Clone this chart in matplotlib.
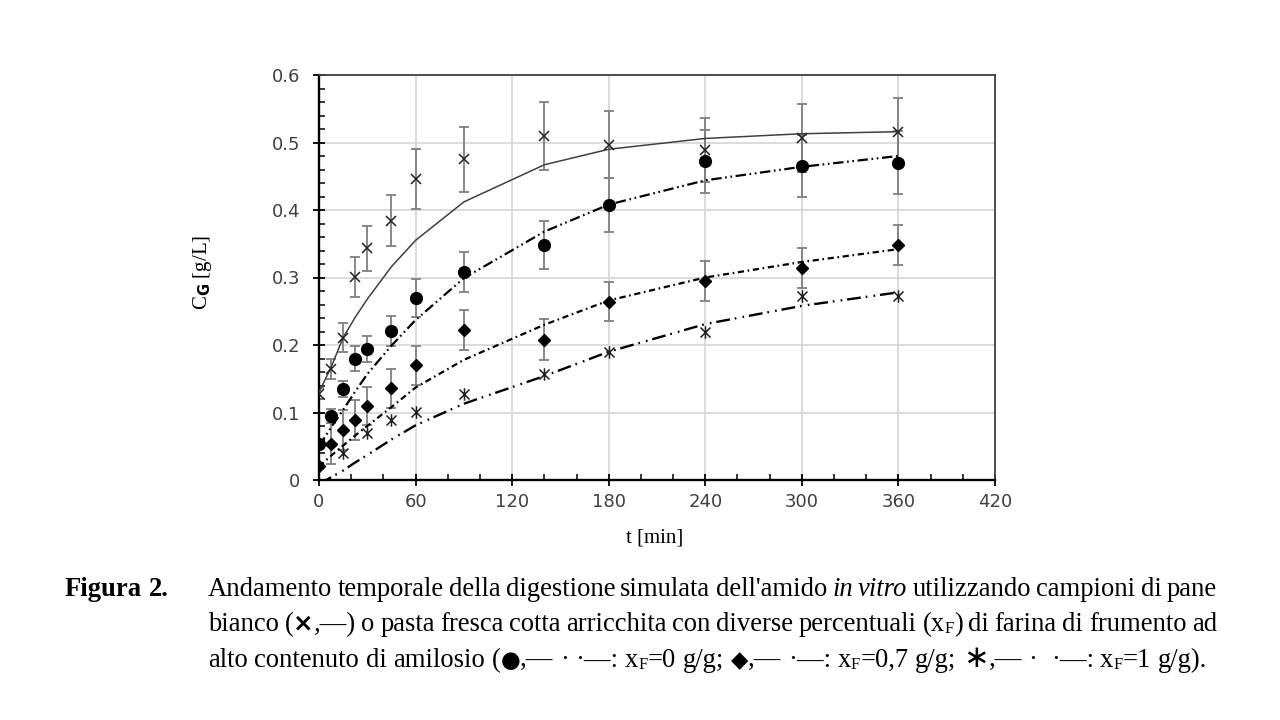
import matplotlib
matplotlib.use('Agg')
import matplotlib.pyplot as plt
from matplotlib.path import Path
from matplotlib.ticker import MultipleLocator, FuncFormatter
from matplotlib.font_manager import FontProperties

plt.rcParams['lines.scale_dashes'] = False

# ---------------- data ----------------
t = [0, 7.5, 15, 22.5, 30, 45, 60, 90, 140, 180, 240, 300, 360]

# white bread (x, solid)
wb = [0.128, 0.165, 0.211, 0.301, 0.343, 0.384, 0.446, 0.475, 0.510, 0.497, 0.489, 0.507, 0.516]
wb_err = [0.008, 0.015, 0.022, 0.030, 0.034, 0.038, 0.045, 0.048, 0.050, 0.050, 0.048, 0.050, 0.050]
wb_fit = [0.130, 0.167, 0.211, 0.241, 0.268, 0.316, 0.355, 0.412, 0.467, 0.490, 0.506, 0.513, 0.516]

# pasta xF = 0 g/g (filled circle)
p0 = [0.053, 0.095, 0.135, 0.180, 0.194, 0.221, 0.270, 0.308, 0.348, 0.408, 0.472, 0.465, 0.470]
p0_err = [0.005, 0.010, 0.012, 0.018, 0.019, 0.022, 0.028, 0.030, 0.035, 0.040, 0.047, 0.046, 0.047]
p0_fit = [0.050, 0.078, 0.104, 0.131, 0.157, 0.199, 0.237, 0.299, 0.368, 0.408, 0.444, 0.464, 0.480]

# pasta xF = 0.7 g/g (diamond)
p07 = [0.021, 0.054, 0.074, 0.089, 0.110, 0.136, 0.170, 0.222, 0.208, 0.264, 0.295, 0.314, 0.348]
p07_err = [0.004, 0.030, 0.030, 0.030, 0.028, 0.029, 0.029, 0.030, 0.030, 0.029, 0.030, 0.030, 0.030]
p07_fit = [0.020, 0.036, 0.051, 0.066, 0.080, 0.108, 0.137, 0.178, 0.230, 0.266, 0.300, 0.323, 0.342]

# pasta xF = 1 g/g (asterisk)
t1 = [15, 30, 45, 60, 90, 140, 180, 240, 300, 360]
p1 = [0.040, 0.069, 0.089, 0.101, 0.127, 0.157, 0.190, 0.220, 0.272, 0.272]
p1_fit = [-0.006, 0.004, 0.014, 0.026, 0.037, 0.060, 0.081, 0.113, 0.154, 0.190, 0.231, 0.258, 0.278]

x_ticks = [0, 60, 120, 180, 240, 300, 360, 420]
y_ticks = [0, 0.1, 0.2, 0.3, 0.4, 0.5, 0.6]

# ---------------- figure ----------------
W, H = 1280, 720
fig = plt.figure(figsize=(W / 100, H / 100), dpi=100)
ax = fig.add_axes([319 / W, 1 - 480 / H, (995 - 319) / W, (480 - 75) / H])

ERR_C = '#7f7f7f'
cap = 3.6
for yv, ye in [(wb, wb_err), (p0, p0_err), (p07, p07_err)]:
    ax.errorbar(t, yv, yerr=ye, fmt='none', ecolor=ERR_C, elinewidth=1.3,
                capsize=cap, capthick=1.3, zorder=2)

# model lines
ax.plot(t, wb_fit, color='#404040', lw=1.1, zorder=3)
ax.plot(t, p0_fit, color='black', lw=1.6, linestyle=(0, (7.5, 2.6, 1.2, 2.6, 1.2, 2.6)), zorder=3)
ax.plot(t, p07_fit, color='black', lw=1.6, linestyle=(0, (4.5, 2.6, 1.2, 2.6)), zorder=3)
ax.plot(t, p1_fit, color='black', lw=1.7, linestyle=(0, (10, 3.5, 1.2, 4.5, 1.2, 3.5)), zorder=3)

# markers
star = Path([(-1, -1), (1, 1), (-1, 1), (1, -1), (0, -1.25), (0, 1.25)],
            [Path.MOVETO, Path.LINETO] * 3)
ax.plot(t, wb, linestyle='none', marker='x', ms=7.5, mec='#202020', mew=1.1, zorder=4)
ax.plot(t, p0, linestyle='none', marker='o', ms=8.5, mfc='black', mec='black', zorder=4)
ax.plot(t, p07, linestyle='none', marker='D', ms=5.8, mfc='black', mec='black', zorder=4)
ax.plot(t1, p1, linestyle='none', marker=star, ms=9, mfc='none', mec='#202020', mew=1.1, zorder=4)

ax.set_xlim(0, 420)
ax.set_ylim(0, 0.6)
ax.set_xticks(x_ticks)
ax.set_yticks(y_ticks)
ax.xaxis.set_minor_locator(MultipleLocator(20))
ax.yaxis.set_minor_locator(MultipleLocator(0.02))
ax.yaxis.set_major_formatter(FuncFormatter(lambda v, p: '0' if abs(v) < 1e-9 else f'{v:.1f}'))

ax.grid(True, which='major', color='#d9d9d9', lw=1.3)
ax.set_axisbelow(True)

ax.tick_params(which='major', direction='inout', length=9, width=1.3, color='black',
               labelsize=13, labelcolor='#404040')
ax.tick_params(axis='x', which='major', pad=5)
ax.tick_params(axis='y', which='major', pad=9)
ax.tick_params(which='minor', direction='in', length=4, width=1.1, color='black')

for s in ['left', 'bottom']:
    ax.spines[s].set_linewidth(1.7)
    ax.spines[s].set_color('black')
for s in ['top', 'right']:
    ax.spines[s].set_linewidth(1.3)
    ax.spines[s].set_color('#404040')

SERIF = ['Liberation Serif', 'DejaVu Serif', 'DejaVu Sans']
SANS = ['DejaVu Sans']

fig.text(655 / W, 1 - 538 / H, 't [min]', family=SERIF, fontsize=15, ha='center', va='center')
fig.text(203 / W, 1 - 272 / H, r'C$_{\mathbf{G}}$ [g/L]', family=SERIF, fontsize=15,
         rotation=90, ha='center', va='center')

# ---------------- caption ----------------
renderer = fig.canvas.get_renderer()
BASE = 19.2


def make_prop(kw):
    return FontProperties(family=kw.get('family', SERIF), style=kw.get('style', 'normal'),
                          weight=kw.get('weight', 'normal'), size=BASE * kw.get('scale', 1.0))


def width_of(s, prop):
    if s == '':
        return 0.0
    w1, _, _ = renderer.get_text_width_height_descent(s + 'x', prop, ismath=False)
    w2, _, _ = renderer.get_text_width_height_descent('x', prop, ismath=False)
    return w1 - w2


def draw_runs(x_px, y_px, runs, right=None):
    natural = 0.0
    nspace = 0
    for s, kw in runs:
        prop = make_prop(kw)
        natural += width_of(s, prop)
        nspace += s.count(' ')
    extra = 0.0
    if right is not None and nspace:
        extra = (right - x_px - natural) / nspace
    x = x_px
    for s, kw in runs:
        prop = make_prop(kw)
        dy = kw.get('dy', 0)
        toks = s.split(' ')
        sw = width_of(' ', prop)
        for i, tok in enumerate(toks):
            if tok:
                fig.text(x / W, 1 - (y_px + dy) / H, tok, fontproperties=prop,
                         ha='left', va='baseline')
                x += width_of(tok, prop)
            if i < len(toks) - 1:
                x += sw + extra


SUB = {'scale': 0.62, 'dy': 2}
draw_runs(65, 596, [('Figura 2.', {'weight': 'bold'})])
draw_runs(208, 596, [
    ("Andamento temporale della digestione simulata dell'amido ", {}),
    ('in vitro', {'style': 'italic'}),
    (' utilizzando campioni di pane', {}),
], right=1217)
draw_runs(208, 631, [
    ('bianco (', {}),
    ('×', {'family': SANS, 'weight': 'bold', 'scale': 0.92}),
    (',—) o pasta fresca cotta arricchita con diverse percentuali (x', {}),
    ('F', SUB),
    (') di farina di frumento ad', {}),
], right=1217)
draw_runs(208, 667, [
    ('alto contenuto di amilosio (', {}),
    ('●', {'family': SANS, 'scale': 0.85}),
    (',— · ·—: x', {}),
    ('F', SUB),
    ('=0 g/g; ', {}),
    ('◆', {'family': SANS, 'scale': 0.85}),
    (',— ·—: x', {}),
    ('F', SUB),
    ('=0,7 g/g; ', {}),
    ('∗', {'family': SANS, 'scale': 1.15}),
    (',— ·  ·—: x', {}),
    ('F', SUB),
    ('=1 g/g).', {}),
])

fig.savefig('out.png', dpi=100)
